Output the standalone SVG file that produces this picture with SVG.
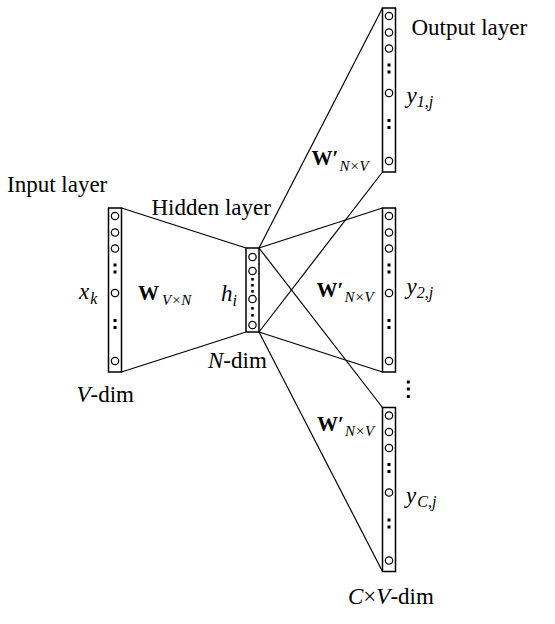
<svg xmlns="http://www.w3.org/2000/svg" width="555" height="624" viewBox="0 0 555 624">
<defs>
<style>
.col{fill:#fff;stroke:#000;stroke-width:1.5}
.nd{fill:#fff;stroke:#000;stroke-width:1.2}
.dt{fill:#000}
.ln{stroke:#000;stroke-width:1.2;fill:none}
text{font-family:"Liberation Serif","Times New Roman",serif;fill:#000}
.lb{font-size:23px}
.it{font-style:italic}
.bw{font-size:21px;font-weight:bold;font-style:normal}
.sub{font-size:15px;font-style:italic;font-weight:normal}
.s16{font-size:16px;font-style:italic}
</style>
<g id="colV">
<rect class="col" x="0" y="0" width="13" height="164"/>
<circle class="nd" cx="6.5" cy="8" r="3.7"/>
<circle class="nd" cx="6.5" cy="24.5" r="3.7"/>
<circle class="nd" cx="6.5" cy="40.5" r="3.7"/>
<rect class="dt" x="5" y="55.5" width="3" height="3"/>
<rect class="dt" x="5" y="62.5" width="3" height="3"/>
<circle class="nd" cx="6.5" cy="85" r="3.7"/>
<rect class="dt" x="5" y="111" width="3" height="3"/>
<rect class="dt" x="5" y="118" width="3" height="3"/>
<circle class="nd" cx="6.5" cy="153" r="3.7"/>
</g>
</defs>
<rect width="555" height="624" fill="#fff"/>
<g id="connectors">
<line class="ln" x1="121.5" y1="208" x2="246" y2="248"/>
<line class="ln" x1="121.5" y1="372" x2="246" y2="332"/>
<line class="ln" x1="259" y1="248" x2="382.5" y2="8"/>
<line class="ln" x1="259" y1="332" x2="382.5" y2="172"/>
<line class="ln" x1="259" y1="248" x2="382.5" y2="208"/>
<line class="ln" x1="259" y1="332" x2="382.5" y2="372"/>
<line class="ln" x1="259" y1="248" x2="382.5" y2="407.5"/>
<line class="ln" x1="259" y1="332" x2="382.5" y2="571.5"/>
</g>
<g id="input">
<use href="#colV" x="108.5" y="208"/>
<text class="lb" x="7" y="191.5">Input layer</text>
<text class="lb it" x="79" y="299">x<tspan class="s16" dx="1" dy="5">k</tspan></text>
<text class="lb" x="76.5" y="401.5"><tspan class="it">V</tspan>-dim</text>
</g>
<g id="weightsW">
<text x="138" y="300"><tspan class="bw">W</tspan><tspan class="sub" dx="3" dy="5">V×N</tspan></text>
</g>
<g id="hidden">
<rect class="col" x="246" y="248" width="13" height="84"/>
<circle class="nd" cx="252.5" cy="257" r="3.7"/>
<circle class="nd" cx="252.5" cy="271" r="3.7"/>
<rect class="dt" x="251.2" y="278" width="2.6" height="2.6"/>
<rect class="dt" x="251.2" y="284" width="2.6" height="2.6"/>
<rect class="dt" x="251.2" y="290" width="2.6" height="2.6"/>
<circle class="nd" cx="252.5" cy="299" r="3.7"/>
<rect class="dt" x="251.2" y="307" width="2.6" height="2.6"/>
<rect class="dt" x="251.2" y="314" width="2.6" height="2.6"/>
<circle class="nd" cx="252.5" cy="325" r="3.7"/>
<text class="lb" x="151.5" y="215">Hidden layer</text>
<text class="lb it" x="221" y="300.5">h<tspan class="s16" dx="0" dy="5">i</tspan></text>
<text class="lb" x="208" y="368"><tspan class="it">N</tspan>-dim</text>
</g>
<g id="output1">
<use href="#colV" x="382.5" y="8"/>
<text class="lb" x="411.5" y="35">Output layer</text>
<text class="lb it" x="406.5" y="103">y<tspan class="s16" dx="0" dy="4">1,j</tspan></text>
<text x="311.5" y="165"><tspan class="bw">W′</tspan><tspan class="sub" dx="1" dy="6">N×V</tspan></text>
</g>
<g id="output2">
<use href="#colV" x="382.5" y="208"/>
<text class="lb it" x="406.5" y="294">y<tspan class="s16" dx="0" dy="4">2,j</tspan></text>
<text x="316.5" y="297"><tspan class="bw">W′</tspan><tspan class="sub" dx="1" dy="5">N×V</tspan></text>
</g>
<g id="ellipsis">
<rect class="dt" x="406.8" y="380.5" width="3" height="3"/>
<rect class="dt" x="406.8" y="387.5" width="3" height="3"/>
<rect class="dt" x="406.8" y="395" width="3" height="3"/>
</g>
<g id="output3">
<use href="#colV" x="382.5" y="407.5"/>
<text class="lb it" x="406" y="503">y<tspan class="s16" dx="1" dy="4">C,j</tspan></text>
<text x="317" y="431"><tspan class="bw">W′</tspan><tspan class="sub" dx="1" dy="5">N×V</tspan></text>
<text class="lb" x="348" y="603.5"><tspan class="it">C</tspan>×<tspan class="it">V</tspan>-dim</text>
</g>
</svg>
